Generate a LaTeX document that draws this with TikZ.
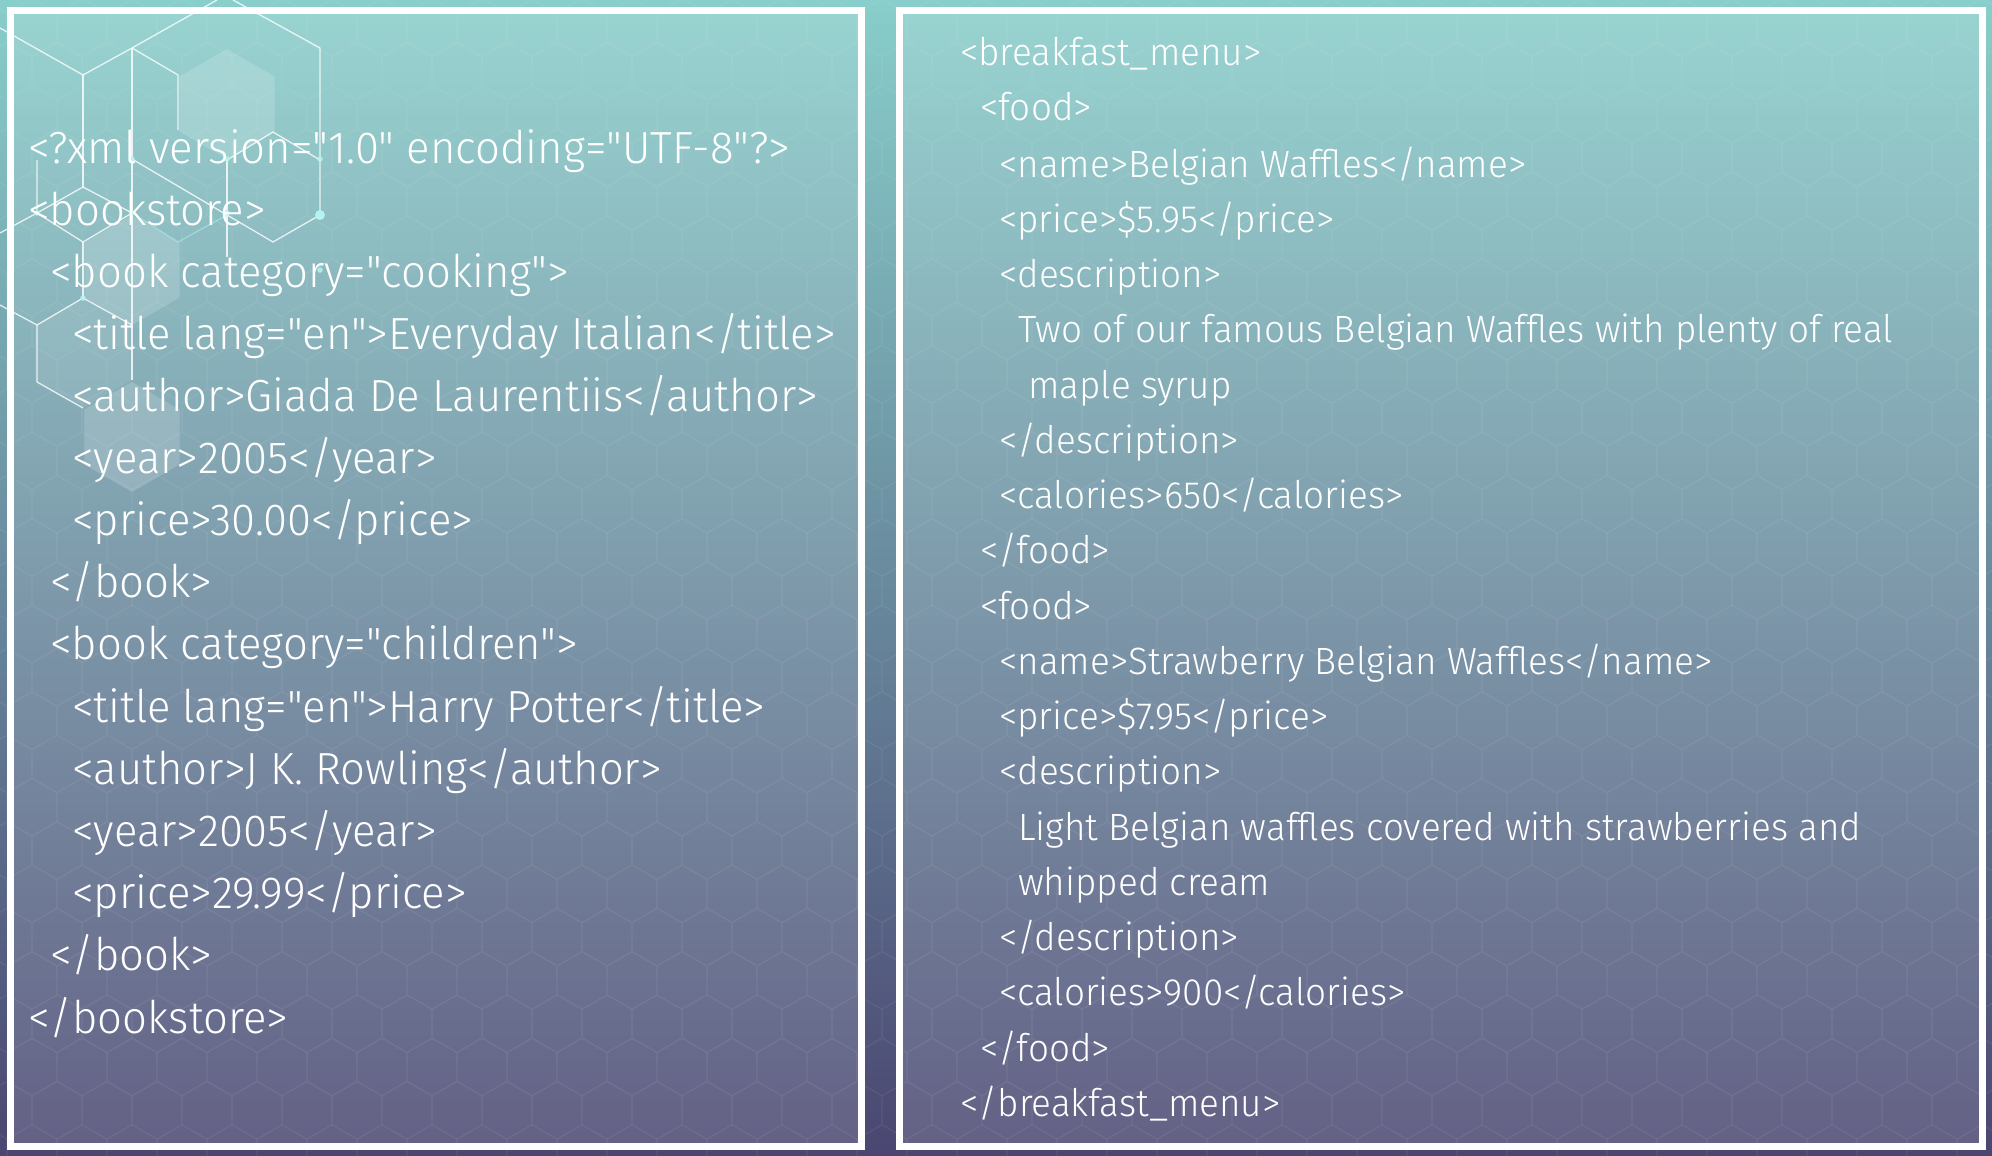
\documentclass[tikz,border=0pt]{standalone}
\usepackage{fontspec}
\setmainfont{Fira Sans Light}[FakeStretch=0.97, Ligatures=TeXOff]
\usetikzlibrary{calc}

\definecolor{bgtop}{HTML}{88CECA}
\definecolor{bgmid}{HTML}{66909F}
\definecolor{bgbot}{HTML}{4A4671}
\definecolor{dotcyan}{HTML}{B2F5F0}

\begin{document}
\begin{tikzpicture}[x=1pt, y=-1pt,
	honey/.style={draw=white, line width=1.2pt, draw opacity=0.07},
	panel/.style={draw=white, line width=7pt, fill=white, fill opacity=0.14},
	deco/.style={draw=white, line width=1.3pt, draw opacity=0.8},
	decofill/.style={fill=white, fill opacity=0.16},
	bookline/.style={anchor=base west, inner sep=0pt, text=white, font=\fontsize{45}{52}\selectfont},
	menuline/.style={anchor=base west, inner sep=0pt, text=white, font=\fontsize{38}{44}\selectfont}]
	\useasboundingbox (0,0) rectangle (1992,1156);

	% background
	\fill[top color=bgtop, middle color=bgmid, bottom color=bgbot] (0,0) rectangle (1992,1156);
	\draw[honey] \foreach \r [evaluate=\r as \cy using -15.5+43.3*\r, evaluate=\r as \off using {25*mod(\r,2)}] in {0,...,28} {
		\foreach \c [evaluate=\c as \cx using 7+50*\c+\off] in {-1,...,40} {
			(\cx-25,\cy+14.43) -- (\cx-25,\cy-14.43) -- (\cx,\cy-28.87) -- (\cx+25,\cy-14.43)
		}
	};

	\draw[panel] (10.5,10.5) rectangle (861.5,1146);
	\draw[panel] (899.5,10.5) rectangle (1982,1146);

	% hexagon cubes, top left
	\foreach \p in {(227,104), (132,270), (132,437)}
		\fill[decofill] \p +(90:55) -- +(30:55) -- +(-30:55) -- +(-90:55) -- +(-150:55) -- +(150:55) -- cycle;
	\fill[decofill, fill opacity=0.08] (83,353) +(90:55) -- +(30:55) -- +(-30:55) -- +(-90:55) -- +(-150:55) -- +(150:55) -- cycle;

	\draw[deco] (0,28) -- (83,75) -- (132,48) -- (217,0);
	\draw[deco] (233,0) -- (320,48) -- (320,215);
	\draw[deco] (132,48) -- (132,380);
	\draw[deco] (132,48) -- (178,75) -- (178,130);
	\draw[deco] (83,75) -- (83,187);
	\draw[deco] (227,160) -- (273,132) -- (320,160);
	\draw[deco] (227,160) -- (227,257);
	\draw[deco] (320,215) -- (273,242) -- (227,215) -- (132,159);
	\draw[deco] (0,233) -- (37,213) -- (83,187) -- (132,213);
	\draw[deco] (37,160) -- (37,213) -- (83,242) -- (132,213);
	\draw[deco] (83,242) -- (83,298);
	\draw[deco] (0,305) -- (37,325) -- (83,298) -- (132,325);
	\draw[deco] (37,325) -- (37,382) -- (83,408);
	\draw[deco, draw=dotcyan, draw opacity=0.5] (132,213) -- (178,242) -- (227,215);

	\fill[dotcyan] (320,215) circle (5);
	\foreach \p in {(320,159), (227,159), (132,159), (132,213), (37,213), (227,213), (320,270), (83,298)}
		\fill[dotcyan, opacity=0.85] \p circle (2.8);

	% bookstore
	\node[bookline] (b0) at (28,163) {<?xml version="1.0" encoding="UTF-8"?>};
	\node[bookline] (b1) at (28,225) {<bookstore>};
	\node[bookline] (b2) at (50,287) {<book category="cooking">};
	\node[bookline] (b3) at (72,349) {<title lang="en">Everyday Italian</title>};
	\node[bookline] (b4) at (72,411) {<author>Giada De Laurentiis</author>};
	\node[bookline] (b5) at (72,473) {<year>2005</year>};
	\node[bookline] (b6) at (72,535) {<price>30.00</price>};
	\node[bookline] (b7) at (50,597) {</book>};
	\node[bookline] (b8) at (50,659) {<book category="children">};
	\node[bookline] (b9) at (72,722) {<title lang="en">Harry Potter</title>};
	\node[bookline] (b10) at (72,784) {<author>J K. Rowling</author>};
	\node[bookline] (b11) at (72,846) {<year>2005</year>};
	\node[bookline] (b12) at (72,908) {<price>29.99</price>};
	\node[bookline] (b13) at (50,970) {</book>};
	\node[bookline] (b14) at (28,1033) {</bookstore>};

	% breakfast menu
	\node[menuline] (m0) at (960,66) {<breakfast\_menu>};
	\node[menuline] (m1) at (980,121) {<food>};
	\node[menuline] (m2) at (999,177) {<name>Belgian Waffles</name>};
	\node[menuline] (m3) at (999,232) {<price>\$5.95</price>};
	\node[menuline] (m4) at (999,287) {<description>};
	\node[menuline] (m5) at (1018,342) {Two of our famous Belgian Waffles with plenty of real};
	\node[menuline] (m6) at (1028,398) {maple syrup};
	\node[menuline] (m7) at (999,453) {</description>};
	\node[menuline] (m8) at (999,508) {<calories>650</calories>};
	\node[menuline] (m9) at (980,563) {</food>};
	\node[menuline] (m10) at (980,619) {<food>};
	\node[menuline] (m11) at (999,674) {<name>Strawberry Belgian Waffles</name>};
	\node[menuline] (m12) at (999,729) {<price>\$7.95</price>};
	\node[menuline] (m13) at (999,784) {<description>};
	\node[menuline] (m14) at (1018,840) {Light Belgian waffles covered with strawberries and};
	\node[menuline] (m15) at (1018,895) {whipped cream};
	\node[menuline] (m16) at (999,950) {</description>};
	\node[menuline] (m17) at (999,1005) {<calories>900</calories>};
	\node[menuline] (m18) at (980,1061) {</food>};
	\node[menuline] (m19) at (960,1116) {</breakfast\_menu>};
\end{tikzpicture}
\end{document}
